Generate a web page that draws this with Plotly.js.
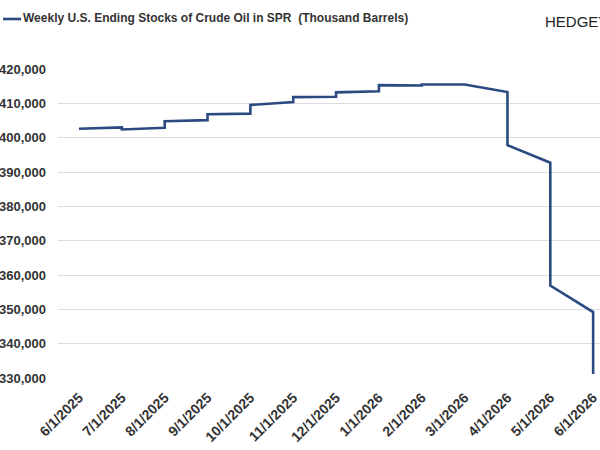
<!DOCTYPE html>
<html>
<head>
<meta charset="utf-8">
<script src="https://cdn.plot.ly/plotly-3.0.1.min.js"></script>
<style>html,body{margin:0;padding:0;background:#fff;}#chart{width:600px;height:450px;}</style>
</head>
<body>
<div id="chart"></div>
<script>
// Month positions (each month has a start value and the line runs to the next month)
var months = ["6/1/2025","7/1/2025","8/1/2025","9/1/2025","10/1/2025","11/1/2025","12/1/2025",
              "1/1/2026","2/1/2026","3/1/2026","4/1/2026","5/1/2026","6/1/2026"];
// Line vertices (x category, value)
var xDates = ["6/1/2025","7/1/2025","7/1/2025","8/1/2025","8/1/2025","9/1/2025","9/1/2025",
              "10/1/2025","10/1/2025","11/1/2025","11/1/2025","12/1/2025","12/1/2025",
              "1/1/2026","1/1/2026","2/1/2026","2/1/2026","3/1/2026","4/1/2026","4/1/2026",
              "5/1/2026","5/1/2026","6/1/2026","6/1/2026"];
var stocks = [402600,403000,402400,402900,404800,405100,406800,
              407000,409500,410400,411800,411900,413200,
              413500,415300,415200,415500,415500,413300,397800,
              392700,356900,349200,331200];
var seriesName = "Weekly U.S. Ending Stocks of Crude Oil in SPR  (Thousand Barrels)";
var yTicks = [330000,340000,350000,360000,370000,380000,390000,400000,410000,420000];

var navy = "#2c4a82";
var trace = {
  x: xDates, y: stocks, type: "scatter", mode: "lines", name: seriesName,
  line: {color: navy, width: 2.6}, showlegend: false, hoverinfo: "x+y"
};

var layout = {
  width: 600, height: 450,
  margin: {l: 58, r: 0, t: 69, b: 72},
  paper_bgcolor: "#ffffff", plot_bgcolor: "#ffffff",
  font: {family: "Liberation Sans, Arial, sans-serif", color: "#333333"},
  xaxis: {
    type: "category", categoryorder: "array", categoryarray: months,
    tickvals: months, ticktext: months,
    range: [-0.49, 12.16], showgrid: false, zeroline: false, showline: false,
    tickangle: -45, ticks: "outside", ticklen: 5, tickcolor: "rgba(0,0,0,0)",
    tickfont: {size: 14, family: "Liberation Sans, Arial, sans-serif", color: "#333333", weight: "bold"},
    automargin: false, fixedrange: true
  },
  yaxis: {
    range: [330000, 420000], tickvals: yTicks, tickformat: ",.0f",
    showgrid: true, gridcolor: "#dcdcdc", gridwidth: 1, zeroline: false, showline: false,
    ticklabelstandoff: 11,
    tickfont: {size: 13, family: "Liberation Sans, Arial, sans-serif", color: "#333333", weight: "bold"},
    automargin: false, fixedrange: true
  },
  shapes: [
    {type: "line", xref: "paper", yref: "paper",
     x0: -55/542, x1: -37/542, y0: 1 + 50/309, y1: 1 + 50/309,
     line: {color: navy, width: 2.6}}
  ],
  annotations: [
    {text: seriesName, xref: "paper", yref: "paper",
     x: -37/542, y: 1 + 51/309, xanchor: "left", yanchor: "middle", showarrow: false,
     font: {size: 12, family: "Liberation Sans, Arial, sans-serif", color: "#333333", weight: "bold"}},
    {text: "HEDGEYE", xref: "paper", yref: "paper",
     x: (543-58)/542, y: 1 + 48/309, xanchor: "left", yanchor: "middle", showarrow: false,
     font: {size: 15, family: "Liberation Sans, Arial, sans-serif", color: "#222222"}}
  ]
};

Plotly.newPlot("chart", [trace], layout, {displayModeBar: false, staticPlot: true});
</script>
</body>
</html>
